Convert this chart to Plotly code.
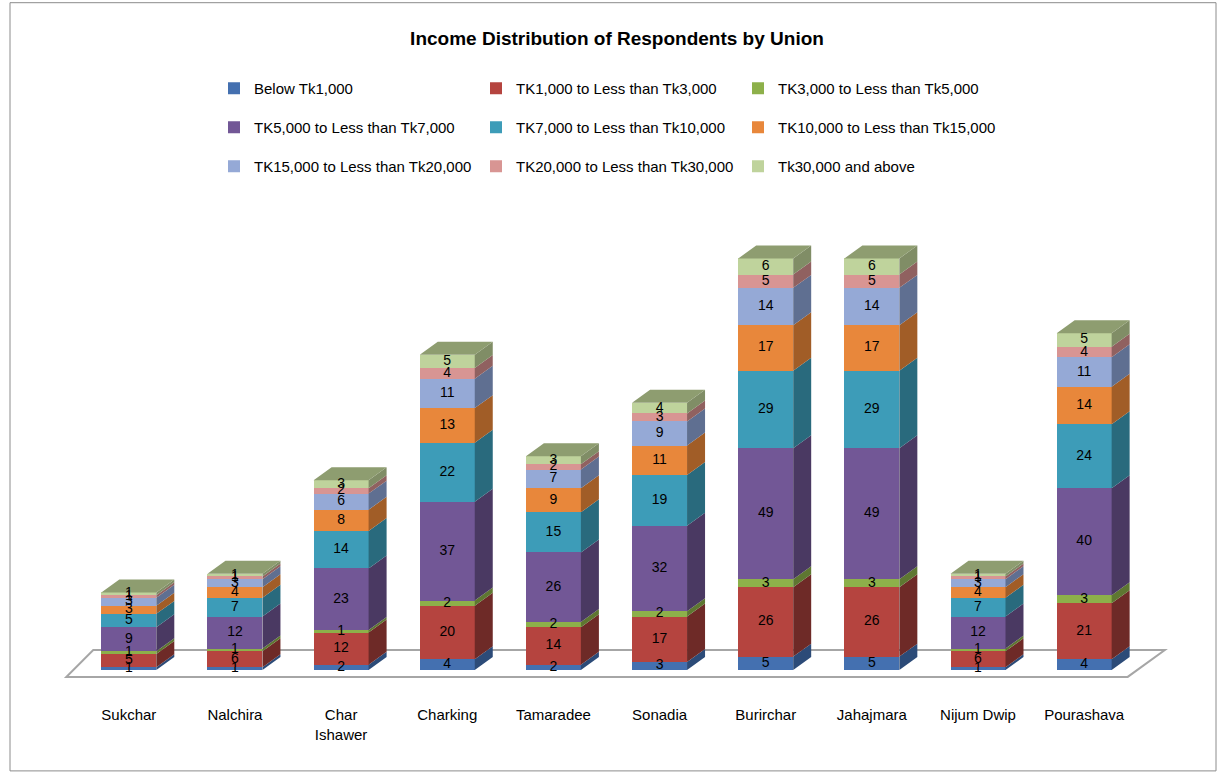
import plotly.graph_objects as go

# Unions along the category axis
unions = ["Sukchar", "Nalchira", "Char<br>Ishawer", "Charking", "Tamaradee",
          "Sonadia", "Burirchar", "Jahajmara", "Nijum Dwip", "Pourashava"]

# Income bands (legend order)
bands = ["Below Tk1,000", "TK1,000 to Less than Tk3,000", "TK3,000 to Less than Tk5,000",
         "TK5,000 to Less than Tk7,000", "TK7,000 to Less than Tk10,000", "TK10,000 to Less than Tk15,000",
         "TK15,000 to Less than Tk20,000", "TK20,000 to Less than Tk30,000", "Tk30,000 and above"]

# Respondent counts per band, one value per union
below_1k     = [1, 1, 2, 4, 2, 3, 5, 5, 1, 4]
tk1k_3k      = [5, 6, 12, 20, 14, 17, 26, 26, 6, 21]
tk3k_5k      = [1, 1, 1, 2, 2, 2, 3, 3, 1, 3]
tk5k_7k      = [9, 12, 23, 37, 26, 32, 49, 49, 12, 40]
tk7k_10k     = [5, 7, 14, 22, 15, 19, 29, 29, 7, 24]
tk10k_15k    = [3, 4, 8, 13, 9, 11, 17, 17, 4, 14]
tk15k_20k    = [3, 3, 6, 11, 7, 9, 14, 14, 3, 11]
tk20k_30k    = [1, 1, 2, 4, 2, 3, 5, 5, 1, 4]
tk30k_plus   = [1, 1, 3, 5, 3, 4, 6, 6, 1, 5]

series = [below_1k, tk1k_3k, tk3k_5k, tk5k_7k, tk7k_10k,
          tk10k_15k, tk15k_20k, tk20k_30k, tk30k_plus]

front_colors = ["#4470B0", "#B5443F", "#8DB04A", "#725796", "#3D9CB8",
                "#E8873B", "#95A9D6", "#D89593", "#BFD39C"]
side_colors = ["#2C4B78", "#6E2A27", "#5E7731", "#4A3962", "#296A7D",
               "#A15D27", "#5F6F91", "#906160", "#808D66"]
top_color = "#8E9D70"

# Pixel geometry of the plot area
W, H = 1225, 778
M_L, M_R, M_T, M_B = 63, 40, 188.5, 100
X_RANGE = [-0.62, 9.95]
Y_RANGE = [-3, 180]

BAR_W = 0.518          # front face width (category units)
DEPTH_X = 0.1695       # 3D depth offset, x units
DEPTH_Y = 4.86         # 3D depth offset, y units

xs = list(range(len(unions)))
fig = go.Figure()

legend_rows = ["legend", "legend", "legend",
               "legend2", "legend2", "legend2",
               "legend3", "legend3", "legend3"]

# Front faces: stacked bars
for name, vals, col, lg in zip(bands, series, front_colors, legend_rows):
    fig.add_trace(go.Bar(
        x=xs, y=vals, name=name, width=BAR_W,
        marker=dict(color=col, line=dict(width=0)),
        legend=lg, hoverinfo="skip"))

# Side faces for every segment, plus the top face of each stack
base = [0] * len(xs)
label_x, label_y, label_t = [], [], []
for vals, scol in zip(series, side_colors):
    px, py = [], []
    for i, v in enumerate(vals):
        y0, y1 = base[i], base[i] + v
        x1 = xs[i] + BAR_W / 2
        px += [x1, x1 + DEPTH_X, x1 + DEPTH_X, x1, x1, None]
        py += [y0, y0 + DEPTH_Y, y1 + DEPTH_Y, y1, y0, None]
        label_x.append(xs[i])
        label_y.append(y0 + v / 2)
        label_t.append(str(v))
    fig.add_trace(go.Scatter(
        x=px, y=py, mode="lines", fill="toself", fillcolor=scol,
        line=dict(width=0, color=scol), showlegend=False, hoverinfo="skip"))
    base = [b + v for b, v in zip(base, vals)]

tx, ty = [], []
for i, top in enumerate(base):
    x0, x1 = xs[i] - BAR_W / 2, xs[i] + BAR_W / 2
    tx += [x0, x0 + DEPTH_X, x1 + DEPTH_X, x1, x0, None]
    ty += [top, top + DEPTH_Y, top + DEPTH_Y, top, top, None]
fig.add_trace(go.Scatter(
    x=tx, y=ty, mode="lines", fill="toself", fillcolor=top_color,
    line=dict(width=0, color=top_color), showlegend=False, hoverinfo="skip"))

# Value labels centred in each segment
fig.add_trace(go.Scatter(
    x=label_x, y=label_y, text=label_t, mode="text",
    textfont=dict(family="Liberation Sans", size=14, color="#000000"),
    showlegend=False, hoverinfo="skip", cliponaxis=False))

# Floor of the 3D plot
floor = "M -0.589 -2.6 L 9.41 -2.6 L 9.76 7.5 L -0.335 7.5 Z"
fig.add_shape(type="path", path=floor, xref="x", yref="y", layer="below",
              line=dict(color="#A6A6A6", width=2), fillcolor="white")

# Chart frame
pw, ph = W - M_L - M_R, H - M_T - M_B
def to_px(v):
    return (v - M_L) / pw
def to_py(v):
    return (H - M_B - v) / ph
fig.add_shape(type="rect", xref="paper", yref="paper",
              x0=to_px(10), x1=to_px(1216), y0=to_py(771), y1=to_py(2),
              line=dict(color="#8C8C8C", width=1), fillcolor="rgba(0,0,0,0)",
              layer="below")

legend_common = dict(orientation="h", xref="container", yref="container",
                     x=214 / W, xanchor="left", yanchor="top",
                     entrywidth=217, entrywidthmode="pixels",
                     font=dict(family="Liberation Sans", size=15, color="#000000"),
                     bgcolor="rgba(0,0,0,0)", traceorder="normal",
                     itemclick=False, itemdoubleclick=False)

fig.update_layout(
    width=W, height=H,
    margin=dict(l=M_L, r=M_R, t=M_T, b=M_B, autoexpand=False),
    paper_bgcolor="white", plot_bgcolor="white",
    barmode="stack", bargap=0,
    title=dict(text="<b>Income Distribution of Respondents by Union</b>",
               x=617 / W, xanchor="center", y=1 - 38 / H, yanchor="middle",
               font=dict(family="Liberation Sans", size=19, color="#000000")),
    legend=dict(legend_common, y=1 - 72 / H),
    legend2=dict(legend_common, y=1 - 111 / H),
    legend3=dict(legend_common, y=1 - 150 / H),
    xaxis=dict(range=X_RANGE, tickmode="array", tickvals=xs, ticktext=unions,
               showgrid=False, zeroline=False, showline=False, ticks="",
               ticklabelstandoff=26, automargin=False,
               tickfont=dict(family="Liberation Sans", size=15, color="#000000")),
    yaxis=dict(range=Y_RANGE, showgrid=False, zeroline=False, showline=False,
               showticklabels=False, ticks="", automargin=False),
    font=dict(family="Liberation Sans"),
)

fig.write_html("out.html")
